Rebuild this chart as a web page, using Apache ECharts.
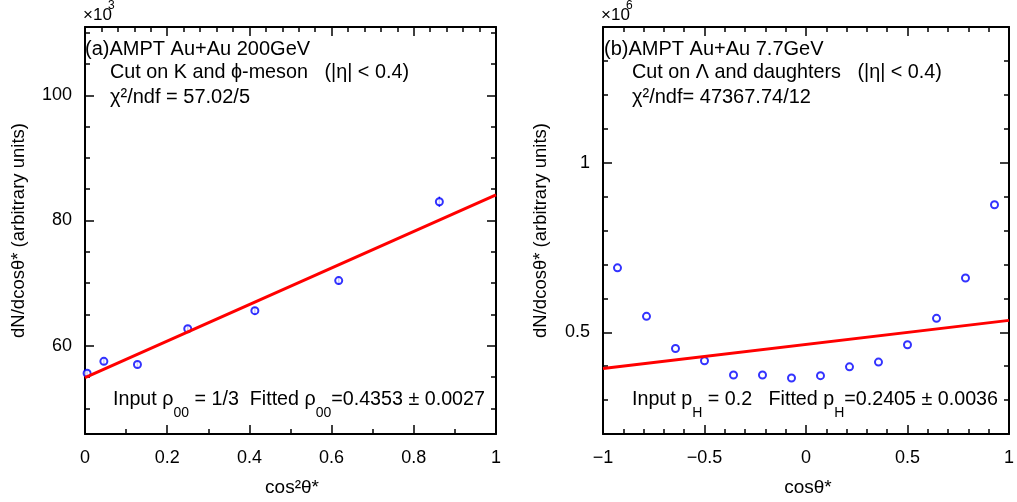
<!DOCTYPE html>
<html>
<head>
<meta charset="utf-8">
<script src="https://cdn.jsdelivr.net/npm/echarts@6/dist/echarts.min.js"></script>
<style>html,body{margin:0;padding:0;background:#fff}#c{width:1017px;height:502px}</style>
</head>
<body>
<div id="c"></div>
<script>
// ---- data ----
// left panel: x = cos^2(theta*), y in units of 10^3
const leftX = [0.0051, 0.0459, 0.1276, 0.25, 0.4133, 0.6173, 0.8622];
const leftY = [55.6, 57.5, 57.0, 62.7, 65.6, 70.4, 83.0];
const leftErr = [0.5, 0.5, 0.5, 0.5, 0.6, 0.6, 0.8];
const leftFitX = [0, 1];
const leftFitY = [54.9, 84.1];
// right panel: x = cos(theta*), y in units of 10^6
const rightX = [-0.9286, -0.7857, -0.6429, -0.5, -0.3571, -0.2143, -0.0714, 0.0714, 0.2143, 0.3571, 0.5, 0.6429, 0.7857, 0.9286];
const rightY = [0.690, 0.547, 0.452, 0.416, 0.374, 0.374, 0.365, 0.372, 0.398, 0.412, 0.463, 0.541, 0.660, 0.876];
const rightFitX = [-1, 1];
const rightFitY = [0.393, 0.535];
// tick values
const leftXMajor = [0, 0.2, 0.4, 0.6, 0.8, 1];
const leftXMinor = [0.1, 0.3, 0.5, 0.7, 0.9];
const leftXTopMinor = [0.04,0.08,0.12,0.16,0.24,0.28,0.32,0.36,0.44,0.48,0.52,0.56,0.64,0.68,0.72,0.76,0.84,0.88,0.92,0.96];
const leftYMajor = [60, 80, 100];
const leftYMinor = [50, 55, 65, 70, 75, 85, 90, 95, 105, 110];
const rightXMajor = [-1, -0.5, 0, 0.5, 1];
const rightXMinor = [-0.9,-0.8,-0.7,-0.6,-0.4,-0.3,-0.2,-0.1,0.1,0.2,0.3,0.4,0.6,0.7,0.8,0.9];
const rightYMajor = [0.5, 1];
const rightYMinor = [0.3, 0.4, 0.6, 0.7, 0.8, 0.9, 1.1, 1.2, 1.3];
const leftRange = [45.9, 110.9];
const rightRange = [0.2, 1.4];

const FONT = '"Liberation Sans", Arial, Helvetica, sans-serif';
const chart = echarts.init(document.getElementById('c'));

function fmt(v) {
  const s = String(Math.round(v * 1000) / 1000);
  return s.replace('-', '\u2212');
}
function xAxisSet(grid, min, max, major, minor, topMinor) {
  const base = { type: 'value', gridIndex: grid, min: min, max: max, splitLine: { show: false } };
  return [
    Object.assign({}, base, {
      position: 'bottom',
      axisLine: { show: true, onZero: false, lineStyle: { color: '#000', width: 2 } },
      axisTick: { show: true, inside: true, length: 9, customValues: major, lineStyle: { color: '#000', width: 1.5 } },
      axisLabel: { show: true, customValues: major, formatter: fmt, margin: 15, color: '#000', fontSize: 18, fontFamily: FONT }
    }),
    Object.assign({}, base, {
      position: 'bottom',
      axisLine: { show: false, onZero: false },
      axisTick: { show: true, inside: true, length: 5, customValues: minor, lineStyle: { color: '#000', width: 1.5 } },
      axisLabel: { show: false }
    }),
    Object.assign({}, base, {
      position: 'top',
      axisLine: { show: true, onZero: false, lineStyle: { color: '#000', width: 2 } },
      axisTick: { show: true, inside: true, length: 9, customValues: major, lineStyle: { color: '#000', width: 1.5 } },
      axisLabel: { show: false }
    }),
    Object.assign({}, base, {
      position: 'top',
      axisLine: { show: false, onZero: false },
      axisTick: { show: true, inside: true, length: 5, customValues: topMinor, lineStyle: { color: '#000', width: 1.5 } },
      axisLabel: { show: false }
    })
  ];
}
function yAxisSet(grid, range, major, minor, nameGap) {
  const base = { type: 'value', gridIndex: grid, min: range[0], max: range[1], splitLine: { show: false } };
  return [
    Object.assign({}, base, {
      position: 'left',
      axisLine: { show: true, onZero: false, lineStyle: { color: '#000', width: 2 } },
      axisTick: { show: true, inside: true, length: 9, customValues: major, lineStyle: { color: '#000', width: 1.5 } },
      axisLabel: { show: true, customValues: major, formatter: fmt, margin: 13, color: '#000', fontSize: 18, fontFamily: FONT },
      name: 'dN/dcosθ* (arbitrary units)', nameLocation: 'middle', nameGap: nameGap,
      nameTextStyle: { color: '#000', fontSize: 18.5, fontFamily: FONT }
    }),
    Object.assign({}, base, {
      position: 'left',
      axisLine: { show: false, onZero: false },
      axisTick: { show: true, inside: true, length: 5, customValues: minor, lineStyle: { color: '#000', width: 1.5 } },
      axisLabel: { show: false }
    }),
    Object.assign({}, base, {
      position: 'right',
      axisLine: { show: true, onZero: false, lineStyle: { color: '#000', width: 2 } },
      axisTick: { show: true, inside: true, length: 9, customValues: major, lineStyle: { color: '#000', width: 1.5 } },
      axisLabel: { show: false }
    }),
    Object.assign({}, base, {
      position: 'right',
      axisLine: { show: false, onZero: false },
      axisTick: { show: true, inside: true, length: 5, customValues: minor, lineStyle: { color: '#000', width: 1.5 } },
      axisLabel: { show: false }
    })
  ];
}

function pts(xs, ys) { return xs.map((x, i) => [x, ys[i]]); }
function errData(xs, ys, es) { return xs.map((x, i) => [x, ys[i], es[i]]); }

function errorSeries(xi, yi, data) {
  return {
    type: 'custom', xAxisIndex: xi, yAxisIndex: yi, data: data, z: 3, silent: true,
    renderItem: function (params, api) {
      const x = api.value(0), y = api.value(1), e = api.value(2);
      const p1 = api.coord([x, y - e]);
      const p2 = api.coord([x, y + e]);
      return { type: 'line', shape: { x1: p1[0], y1: p1[1], x2: p2[0], y2: p2[1] },
               style: { stroke: '#0000ff', lineWidth: 1.5 } };
    }
  };
}

function txt(x, y, text, size, rich, align) {
  const style = { fontFamily: FONT, fontSize: size, fill: '#000', verticalAlign: 'middle', text: text, align: align || 'left' };
  if (rich) style.rich = rich;
  return { type: 'text', x: x, y: y, style: style, z: 100 };
}
const subRich = {
  n: { fontFamily: FONT, fontSize: 19.7, lineHeight: 40, fill: '#000' },
  s: { fontFamily: FONT, fontSize: 14, lineHeight: 14, verticalAlign: 'bottom', fill: '#000' }
};

const option = {
  backgroundColor: '#fff',
  animation: false,
  grid: [
    { left: 85, top: 27, width: 411, height: 407 },
    { left: 603, top: 27, width: 410, height: 407 }
  ],
  xAxis: [].concat(
    xAxisSet(0, 0, 1, leftXMajor, leftXMinor, leftXTopMinor),
    xAxisSet(1, -1, 1, rightXMajor, rightXMinor, rightXMinor)
  ),
  yAxis: [].concat(
    yAxisSet(0, leftRange, leftYMajor, leftYMinor, 57),
    yAxisSet(1, rightRange, rightYMajor, rightYMinor, 53)
  ),
  series: [
    errorSeries(0, 0, errData(leftX, leftY, leftErr)),
    { type: 'scatter', xAxisIndex: 0, yAxisIndex: 0, data: pts(leftX, leftY), symbol: 'emptyCircle', symbolSize: 7,
      itemStyle: { color: '#0000ff', borderWidth: 1.6 }, z: 4 },
    { type: 'line', xAxisIndex: 0, yAxisIndex: 0, data: pts(leftFitX, leftFitY), showSymbol: false,
      lineStyle: { color: '#ff0000', width: 3 }, z: 5 },
    { type: 'scatter', xAxisIndex: 4, yAxisIndex: 4, data: pts(rightX, rightY), symbol: 'emptyCircle', symbolSize: 7,
      itemStyle: { color: '#0000ff', borderWidth: 1.6 }, z: 4 },
    { type: 'line', xAxisIndex: 4, yAxisIndex: 4, data: pts(rightFitX, rightFitY), showSymbol: false,
      lineStyle: { color: '#ff0000', width: 3 }, z: 5 }
  ],
  graphic: [
    txt(83, 15, '×10', 17),
    txt(108, 6, '3', 12),
    txt(601, 15, '×10', 17),
    txt(626, 6, '6', 12),
    txt(292, 488, 'cos²θ*', 19, null, 'center'),
    txt(808, 488, 'cosθ*', 19, null, 'center'),
    txt(85, 49, '(a)AMPT Au+Au 200GeV', 20),
    txt(110, 73, 'Cut on K and ϕ-meson   (|η| < 0.4)', 19.8),
    txt(110, 97, 'χ²/ndf = 57.02/5', 20),
    txt(113, 400, '{n|Input ρ}{s|00}{n| = 1/3  Fitted ρ}{s|00}{n|=0.4353 ± 0.0027}', 19.7, subRich),
    txt(604, 49, '(b)AMPT Au+Au 7.7GeV', 20),
    txt(632, 73, 'Cut on Λ and daughters   (|η| < 0.4)', 19.8),
    txt(632, 97, 'χ²/ndf= 47367.74/12', 20),
    txt(632, 400, '{n|Input p}{s|H}{n| = 0.2   Fitted p}{s|H}{n|=0.2405 ± 0.0036}', 19.7, subRich)
  ]
};
chart.setOption(option);
</script>
</body>
</html>
